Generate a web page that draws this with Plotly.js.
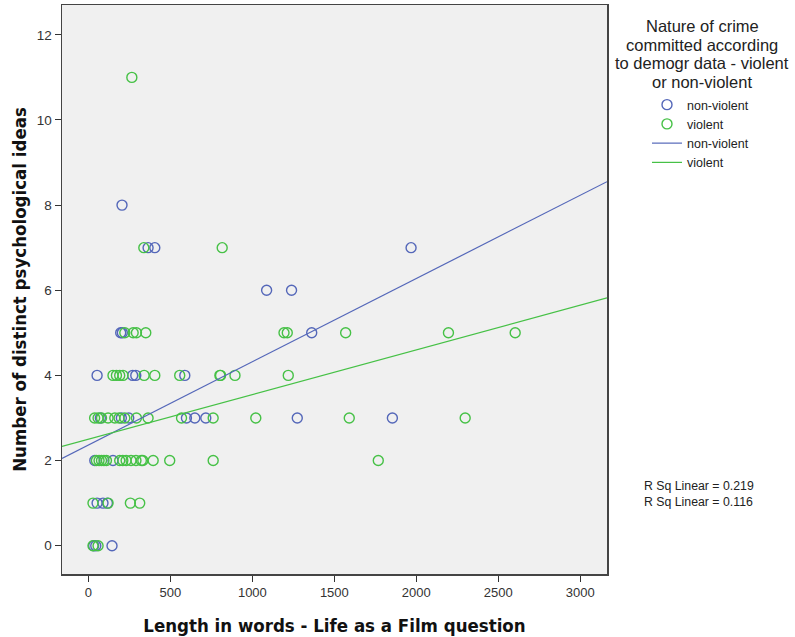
<!DOCTYPE html>
<html>
<head>
<meta charset="utf-8">
<script src="https://cdn.plot.ly/plotly-3.0.1.min.js"></script>
<style>html,body{margin:0;padding:0;background:#fff;}#chart{width:795px;height:637px;}</style>
</head>
<body>
<div id="chart"></div>
<script>
// Non-violent (blue) observations: length in words, number of ideas
const nonViolentX = [205, 364, 405, 197, 207, 1362, 1087, 1239, 1968,
  53, 270, 289, 588,
  73, 201, 246, 598, 649, 716, 1274, 1854,
  39, 150,
  53, 89, 116,
  32, 45, 144];
const nonViolentY = [8, 7, 7, 5, 5, 5, 6, 6, 7,
  4, 4, 4, 4,
  3, 3, 3, 3, 3, 3, 3, 3,
  2, 2,
  1, 1, 1,
  0, 0, 0];

// Violent (green) observations
const violentX = [265, 338, 816,
  222, 273, 293, 350, 1193, 1213, 1569, 2196, 2603,
  150, 171, 191, 211, 340, 405, 557, 802, 806, 894, 1219,
  38, 59, 80, 120, 161, 187, 222, 293, 364, 568, 761, 1021, 1591, 2298,
  49, 65, 80, 95, 110, 191, 210, 230, 260, 290, 323, 332, 395, 496, 761, 1768,
  28, 120, 256, 313,
  28, 59];
const violentY = [11, 7, 7,
  5, 5, 5, 5, 5, 5, 5, 5, 5,
  4, 4, 4, 4, 4, 4, 4, 4, 4, 4, 4,
  3, 3, 3, 3, 3, 3, 3, 3, 3, 3, 3, 3, 3, 3,
  2, 2, 2, 2, 2, 2, 2, 2, 2, 2, 2, 2, 2, 2, 2, 2,
  1, 1, 1, 1,
  0, 0];

// Linear fit lines (endpoints at the axis limits)
const fitX = [-161, 3163];
const nonViolentFit = [2.05, 8.55];
const violentFit = [2.33, 5.82];

const rSqLabels = ["R Sq Linear = 0.219", "R Sq Linear = 0.116"];
const legendTitleLines = ["Nature of crime", "committed according", "to demogr data - violent", "or non-violent"];
const xTickVals = [0, 500, 1000, 1500, 2000, 2500, 3000];
const yTickVals = [0, 2, 4, 6, 8, 10, 12];

const BLUE = '#5467b9';
const GREEN = '#46c146';

const traces = [
  {x: nonViolentX, y: nonViolentY, type: 'scatter', mode: 'markers', name: 'non-violent',
   marker: {symbol: 'circle-open', size: 10, color: BLUE, line: {width: 1.4, color: BLUE}}},
  {x: violentX, y: violentY, type: 'scatter', mode: 'markers', name: 'violent',
   marker: {symbol: 'circle-open', size: 10, color: GREEN, line: {width: 1.4, color: GREEN}}},
  {x: fitX, y: nonViolentFit, type: 'scatter', mode: 'lines', name: 'non-violent',
   line: {color: BLUE, width: 1.2}},
  {x: fitX, y: violentFit, type: 'scatter', mode: 'lines', name: 'violent',
   line: {color: GREEN, width: 1.2}}
];

const titleFont = {family: '"DejaVu Sans Condensed", "Liberation Sans Narrow", "Liberation Sans", Arial, sans-serif', size: 18.5, color: '#111'};

// plot area: x 62..607 px, y 5..574 px
const plotL = 62, plotW = 545, plotT = 5, plotH = 569;
const px2x = p => (p - plotL) / plotW;
const py2y = p => (plotT + plotH - p) / plotH;

const annotations = [];
const titleYs = [26, 45, 63, 82];
legendTitleLines.forEach((t, i) => annotations.push({
  xref: 'paper', yref: 'paper', x: px2x(702), y: py2y(titleYs[i]),
  xanchor: 'center', yanchor: 'middle', text: t, showarrow: false,
  font: {size: 16.5, color: '#222'}
}));
annotations.push({
  xref: 'paper', yref: 'paper', x: px2x(642), y: py2y(494), align: 'left',
  xanchor: 'left', yanchor: 'middle', text: rSqLabels.join('<br>'), showarrow: false,
  font: {size: 12.3, color: '#222'}
});

const layout = {
  width: 795, height: 637,
  margin: {l: plotL, r: 795 - plotL - plotW, t: plotT, b: 637 - plotT - plotH},
  paper_bgcolor: '#ffffff',
  plot_bgcolor: '#f0f0f0',
  showlegend: true,
  font: {family: '"Liberation Sans", Arial, sans-serif', size: 12, color: '#222'},
  xaxis: {
    range: [-161, 3163], tickvals: xTickVals, ticktext: xTickVals.map(String),
    ticks: 'outside', ticklen: 6, tickwidth: 1, tickcolor: '#333',
    showgrid: false, zeroline: false,
    showline: true, linecolor: '#444', linewidth: 1.5, mirror: true,
    tickfont: {size: 13, color: '#333'},
    title: {text: '<b>Length in words - Life as a Film question</b>', font: titleFont, standoff: 20}
  },
  yaxis: {
    range: [-0.665, 12.7], tickvals: yTickVals, ticktext: yTickVals.map(String),
    ticks: 'outside', ticklen: 6, tickwidth: 1, tickcolor: '#333',
    showgrid: false, zeroline: false,
    showline: true, linecolor: '#444', linewidth: 1.5, mirror: true,
    tickfont: {size: 13.5, color: '#333'},
    title: {text: '<b>Number of distinct psychological ideas</b>', font: titleFont, standoff: 5}
  },
  legend: {
    x: px2x(647), xanchor: 'left', y: py2y(90), yanchor: 'top',
    bgcolor: 'rgba(0,0,0,0)',
    font: {size: 12.5, color: '#222'},
    itemwidth: 30, tracegroupgap: 0
  },
  annotations: annotations
};

Plotly.newPlot('chart', traces, layout, {displayModeBar: false, staticPlot: true});
</script>
</body>
</html>
